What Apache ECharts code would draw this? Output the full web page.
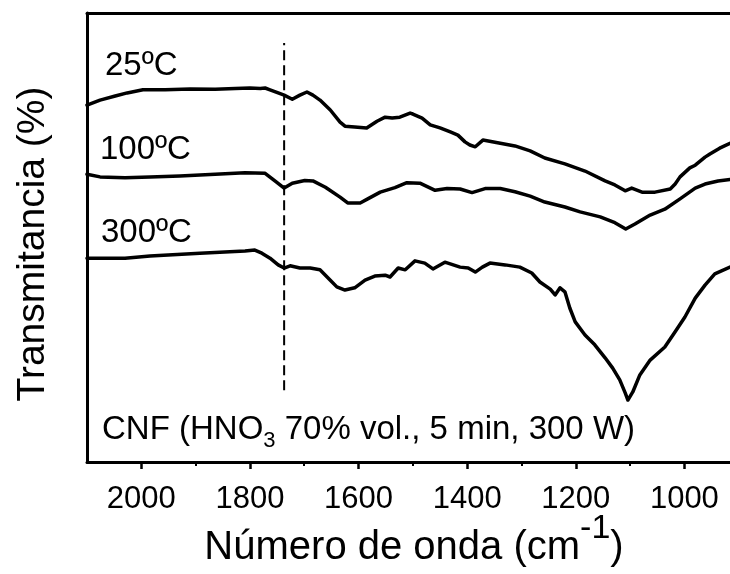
<!DOCTYPE html>
<html>
<head>
<meta charset="utf-8">
<script src="https://cdn.jsdelivr.net/npm/echarts@6/dist/echarts.min.js"></script>
<style>
  html, body { margin: 0; padding: 0; background: #fff; }
  #chart { width: 730px; height: 574px; }
</style>
</head>
<body>
<div id="chart"></div>
<script>
// FTIR spectra of CNF treated with HNO3, three annealing temperatures.
// Each series: [wavenumber (cm-1), transmittance (offset, arbitrary %)]
const spectrum25 = [
  [2100, 79.5], [2076, 80.6], [2048, 81.5], [2026, 82.2], [1997, 82.9], [1956, 82.9],
  [1910, 83.1], [1864, 83.0], [1827, 83.2], [1800, 83.3], [1781, 83.2], [1772, 83.3],
  [1763, 82.9], [1748, 82.2], [1737, 81.7], [1722, 80.8], [1708, 81.7], [1695, 82.4],
  [1684, 81.7], [1671, 80.6], [1652, 78.4], [1634, 75.7], [1625, 74.8], [1607, 74.6],
  [1585, 74.4], [1566, 75.9], [1551, 76.8], [1538, 76.6], [1524, 76.8], [1505, 77.7],
  [1500, 77.5], [1483, 76.6], [1468, 75.1], [1450, 74.4], [1431, 73.5], [1417, 72.8],
  [1404, 71.3], [1395, 70.6], [1385, 70.2], [1371, 71.7], [1339, 71.0], [1312, 70.4],
  [1284, 69.3], [1257, 67.7], [1220, 66.4], [1183, 64.8], [1146, 62.6], [1128, 61.7],
  [1109, 60.4], [1097, 61.0], [1078, 60.1], [1054, 60.1], [1026, 60.8], [1017, 61.9],
  [1008, 63.5], [990, 65.5], [980, 66.1], [962, 67.9], [953, 68.6], [935, 69.9], [916, 71.0]
];
const spectrum100 = [
  [2100, 64.1], [2076, 63.5], [2030, 63.3], [1984, 63.5], [1929, 63.7], [1864, 64.1],
  [1809, 64.4], [1772, 64.3], [1754, 62.6], [1737, 61.0], [1722, 62.1], [1699, 62.7],
  [1684, 62.6], [1661, 61.2], [1634, 59.0], [1620, 57.7], [1597, 57.7], [1583, 58.6],
  [1560, 60.1], [1533, 61.1], [1511, 62.2], [1487, 62.1], [1459, 60.5], [1437, 60.9],
  [1413, 60.8], [1391, 60.0], [1367, 60.9], [1339, 60.9], [1312, 60.2], [1284, 59.2],
  [1257, 57.9], [1220, 56.8], [1192, 55.7], [1155, 54.6], [1128, 53.3], [1108, 51.9],
  [1091, 53.0], [1063, 55.0], [1036, 56.3], [1008, 58.6], [980, 61.0], [962, 61.9],
  [938, 62.6], [916, 62.9]
];
const spectrum300 = [
  [2100, 45.4], [2030, 45.4], [1984, 45.9], [1892, 46.5], [1837, 46.8], [1809, 47.0],
  [1791, 47.2], [1778, 46.5], [1763, 45.4], [1748, 43.9], [1737, 43.2], [1726, 43.7],
  [1708, 43.2], [1689, 43.2], [1671, 42.8], [1652, 40.5], [1640, 39.0], [1625, 38.3],
  [1607, 38.8], [1588, 40.5], [1570, 41.4], [1551, 41.6], [1542, 41.2], [1527, 43.2],
  [1514, 42.8], [1496, 44.8], [1478, 44.3], [1463, 43.0], [1441, 44.5], [1413, 43.4],
  [1398, 43.2], [1385, 42.3], [1372, 43.4], [1358, 44.3], [1330, 43.9], [1303, 43.4],
  [1281, 42.1], [1266, 40.1], [1247, 38.5], [1238, 37.2], [1229, 38.8], [1220, 37.9],
  [1211, 34.3], [1201, 31.2], [1183, 28.3], [1165, 26.1], [1146, 23.2], [1132, 20.9],
  [1119, 18.3], [1109, 15.4], [1104, 13.8], [1095, 15.6], [1082, 19.4], [1063, 22.7],
  [1036, 25.6], [1017, 29.0], [999, 32.3], [980, 36.5], [962, 39.4], [944, 41.9], [916, 43.4]
];
// C=O reference line
const carbonylLine = [[1737, 16.0], [1737, 93.3]];

const majorTicks = [1000, 1200, 1400, 1600, 1800, 2000];
const minorTicks = [1100, 1300, 1500, 1700, 1900];
const seriesLabels = ['25ºC', '100ºC', '300ºC'];

const FONT = 'Liberation Sans, Arial, sans-serif';
const chart = echarts.init(document.getElementById('chart'), null, { renderer: 'canvas' });

const xRange = { min: 916, max: 2100, inverse: true };

const lineSeries = (data) => ({
  type: 'line',
  data: data,
  xAxisIndex: 0,
  showSymbol: false,
  symbol: 'none',
  smooth: false,
  animation: false,
  lineStyle: { color: '#000', width: 3.5, join: 'round', cap: 'round' },
  z: 3
});

chart.setOption({
  backgroundColor: '#fff',
  animation: false,
  grid: { left: 87, right: 0, top: 13, bottom: 112, containLabel: false },
  xAxis: [
    {
      type: 'value', position: 'bottom', ...xRange,
      axisLine: { show: true, lineStyle: { color: '#000', width: 3 } },
      axisTick: { show: true, inside: false, length: 7, customValues: majorTicks,
                  lineStyle: { color: '#000', width: 2.5 } },
      axisLabel: { show: true, customValues: majorTicks, margin: 22,
                   formatter: (v) => String(v),
                   fontSize: 31, fontFamily: FONT, color: '#000' },
      splitLine: { show: false }
    },
    {
      type: 'value', position: 'bottom', ...xRange,
      axisLine: { show: false },
      axisTick: { show: true, inside: false, length: 4, customValues: minorTicks,
                  lineStyle: { color: '#000', width: 2 } },
      axisLabel: { show: false },
      splitLine: { show: false }
    },
    {
      type: 'value', position: 'top', ...xRange,
      axisLine: { show: true, lineStyle: { color: '#000', width: 3 } },
      axisTick: { show: false },
      axisLabel: { show: false },
      splitLine: { show: false }
    }
  ],
  yAxis: {
    type: 'value', min: 0, max: 100,
    axisLine: { show: true, lineStyle: { color: '#000', width: 3 } },
    axisTick: { show: false },
    axisLabel: { show: false },
    splitLine: { show: false }
  },
  series: [
    lineSeries(spectrum25),
    lineSeries(spectrum100),
    lineSeries(spectrum300),
    {
      type: 'line',
      data: carbonylLine,
      showSymbol: false,
      symbol: 'none',
      lineStyle: { color: '#000', width: 2, type: [10, 5] },
      z: 2
    }
  ],
  graphic: [
    { type: 'text', x: 105, y: 66,
      style: { text: seriesLabels[0], font: '33px ' + FONT, fill: '#000', verticalAlign: 'middle' } },
    { type: 'text', x: 100, y: 150,
      style: { text: seriesLabels[1], font: '33px ' + FONT, fill: '#000', verticalAlign: 'middle' } },
    { type: 'text', x: 101, y: 233,
      style: { text: seriesLabels[2], font: '33px ' + FONT, fill: '#000', verticalAlign: 'middle' } },
    { type: 'text', x: 102, y: 413,
      style: {
        text: '{a|CNF (HNO}{b|3}{a| 70% vol., 5 min, 300 W)}',
        verticalAlign: 'top', fill: '#000',
        rich: {
          a: { fontSize: 33, fontFamily: FONT, color: '#000', verticalAlign: 'top' },
          b: { fontSize: 22, fontFamily: FONT, color: '#000', verticalAlign: 'top', padding: [17, 0, 0, 0] }
        }
      } },
    { type: 'text', x: 414, y: 568,
      style: {
        text: '{a|Número de onda (cm}{s|-1}{a|)}',
        align: 'center', verticalAlign: 'bottom', fill: '#000',
        rich: {
          a: { fontSize: 40, fontFamily: FONT, color: '#000', verticalAlign: 'bottom' },
          s: { fontSize: 34, fontFamily: FONT, color: '#000', verticalAlign: 'bottom', padding: [0, 0, 22, 0] }
        }
      } },
    { type: 'text', x: 33, y: 244, rotation: Math.PI / 2,
      style: { text: 'Transmitancia (%)', font: '39px ' + FONT, fill: '#000',
               align: 'center', verticalAlign: 'middle' } }
  ]
});
</script>
</body>
</html>
